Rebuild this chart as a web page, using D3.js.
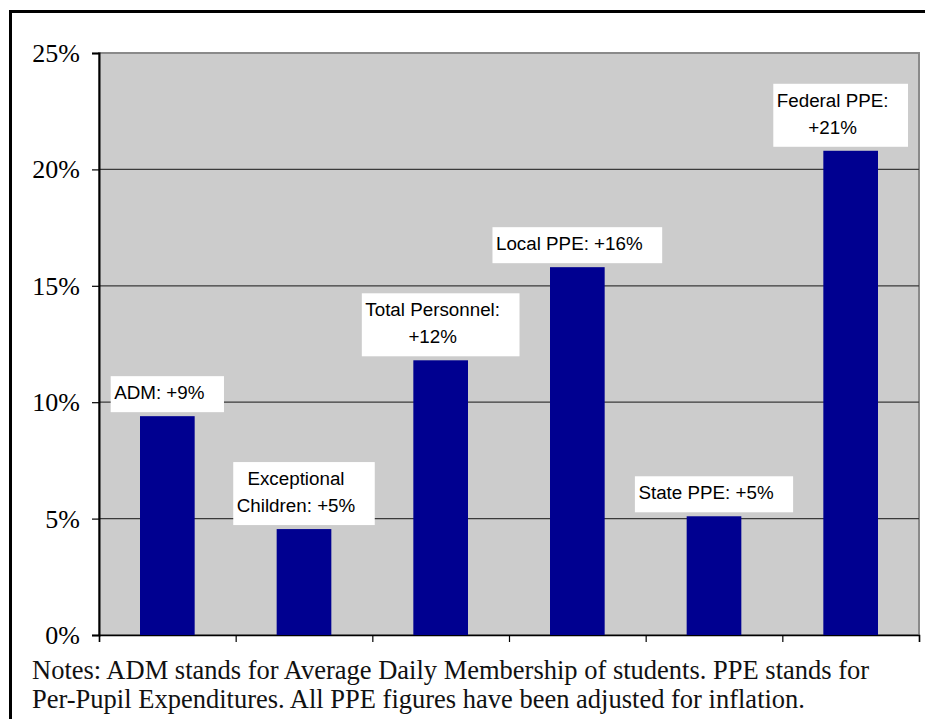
<!DOCTYPE html>
<html>
<head>
<meta charset="utf-8">
<script src="https://cdn.jsdelivr.net/npm/d3@7"></script>
<style>
  body { margin: 0; background: #fff; }
</style>
</head>
<body>
<div id="chart"></div>
<script>
// chart data
const categories = ["ADM", "Exceptional Children", "Total Personnel", "Local PPE", "State PPE", "Federal PPE"];
const values = [9.4, 4.55, 11.8, 15.8, 5.1, 20.8];
const labelLines = [
    ["ADM: +9%"],
    ["Exceptional", "Children: +5%"],
    ["Total Personnel:", "+12%"],
    ["Local PPE: +16%"],
    ["State PPE: +5%"],
    ["Federal PPE:", "+21%"]
];
const yTicks = [0, 5, 10, 15, 20, 25];
const notes = [
    "Notes: ADM stands for Average Daily Membership of students. PPE stands for",
    "Per-Pupil Expenditures. All PPE figures have been adjusted for inflation."
];

const data = categories.map((c, i) => ({ cat: c, value: values[i], lines: labelLines[i] }));

// set the dimensions and margins of the graph
const margin = { top: 53, right: 6, bottom: 84, left: 99 },
    width = 925 - margin.left - margin.right,
    height = 719 - margin.top - margin.bottom;

const root = d3.select("#chart")
    .append("svg")
    .attr("width", 925)
    .attr("height", 719);

// outer frame
root.append("rect")
    .attr("x", 10.5)
    .attr("y", 11.5)
    .attr("width", 940)
    .attr("height", 740)
    .attr("fill", "none")
    .attr("stroke", "#000")
    .attr("stroke-width", 3);

const svg = root.append("g")
    .attr("transform", `translate(${margin.left},${margin.top})`);

// plot background
svg.append("rect")
    .attr("width", width)
    .attr("height", height)
    .attr("fill", "#cccccc")
    .attr("stroke", "#8a8a8a")
    .attr("stroke-width", 2);

const x = d3.scaleBand()
    .range([0, width])
    .domain(categories)
    .paddingInner(0.6)
    .paddingOuter(0.3);

const y = d3.scaleLinear()
    .domain([0, 25])
    .range([height, 0]);

// gridlines
svg.append("g")
    .selectAll("line")
    .data(yTicks.filter(d => d > 0 && d < 25))
    .join("line")
    .attr("x1", 0)
    .attr("x2", width)
    .attr("y1", d => y(d))
    .attr("y2", d => y(d))
    .attr("stroke", "#3a3a3a")
    .attr("stroke-width", 1.2);

// Y axis
const yAxis = svg.append("g")
    .call(d3.axisLeft(y).tickValues(yTicks).tickSize(7).tickPadding(12).tickFormat(d => d + "%"));
yAxis.select(".domain").attr("stroke", "#000").attr("stroke-width", 2);
yAxis.selectAll(".tick line").attr("stroke", "#000").attr("stroke-width", 1.2);
yAxis.selectAll("text")
    .attr("dy", "0.33em")
    .style("font-family", "'Liberation Serif', 'Times New Roman', serif")
    .style("font-size", "26px")
    .attr("fill", "#000");

// X axis (category boundaries only)
const xb = d3.scaleLinear().domain([0, categories.length]).range([0, width]);
const xAxis = svg.append("g")
    .attr("transform", `translate(0,${height})`)
    .call(d3.axisBottom(xb).ticks(categories.length).tickSize(7).tickFormat(""));
xAxis.select(".domain").attr("stroke", "#000").attr("stroke-width", 1.5);
xAxis.selectAll(".tick line").attr("stroke", "#000").attr("stroke-width", 1.2);

// Bars
svg.selectAll("mybar")
    .data(data)
    .join("rect")
    .attr("x", d => x(d.cat))
    .attr("y", d => y(d.value))
    .attr("width", x.bandwidth())
    .attr("height", d => height - y(d.value))
    .attr("fill", "#000090");

// data labels in white boxes
const lab = svg.selectAll("g.lab")
    .data(data)
    .join("g")
    .attr("class", "lab");

lab.each(function (d) {
    const g = d3.select(this);
    const texts = g.selectAll("text")
        .data(d.lines)
        .join("text")
        .style("font-family", "'Liberation Sans', Arial, sans-serif")
        .style("font-size", "18.8px")
        .attr("fill", "#000")
        .attr("text-anchor", "middle")
        .text(t => t);
    let maxw = 0;
    texts.each(function () { maxw = Math.max(maxw, this.getComputedTextLength()); });
    const bw = maxw + 23;
    const bh = 36 + 27 * (d.lines.length - 1);
    const cx = x(d.cat) + x.bandwidth() / 2;
    let bx = Math.min(cx - bw / 2, width - 11 - bw);
    const by = y(d.value) - 4 - bh;
    g.insert("rect", "text")
        .attr("x", bx)
        .attr("y", by)
        .attr("width", bw)
        .attr("height", bh)
        .attr("fill", "#fff");
    texts.attr("x", bx + 3.5 + maxw / 2)
        .attr("y", (t, i) => by + 23 + 27 * i);
});

// notes below the chart
root.append("g")
    .selectAll("text")
    .data(notes)
    .join("text")
    .attr("x", 32)
    .attr("y", (d, i) => 679 + 29 * i)
    .style("font-family", "'Liberation Serif', 'Times New Roman', serif")
    .style("font-size", "26.5px")
    .attr("fill", "#111")
    .text(d => d);
</script>
</body>
</html>
